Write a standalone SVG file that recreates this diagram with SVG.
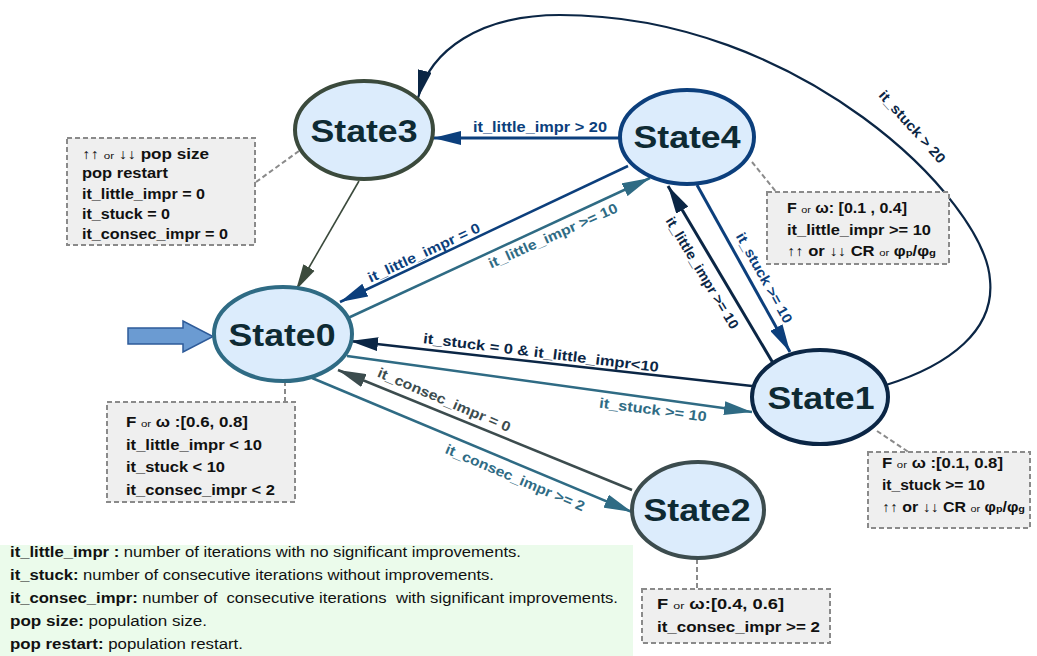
<svg xmlns="http://www.w3.org/2000/svg" width="1037" height="656" viewBox="0 0 1037 656">
<style>
.st{font:bold 31px "Liberation Sans",Arial,sans-serif;fill:#0e2a33;text-anchor:middle}
.lb{font:bold 14px "Liberation Sans",Arial,sans-serif;text-anchor:middle}
.nt{font:bold 14px "Liberation Sans",Arial,sans-serif;fill:#111}
.sm{font-size:9.5px;font-weight:normal}
.sub{font-size:9.5px}
.lg{font:14px "Liberation Sans",Arial,sans-serif;fill:#111}
.b{font-weight:bold}
.note{fill:#efefef;stroke:#8a8a8a;stroke-width:2;stroke-dasharray:5,3}
.lead{fill:none;stroke:#8a8a8a;stroke-width:2;stroke-dasharray:5,3}
.node{fill:#dcecfc;stroke-width:4}
.e{fill:none}
</style>
<defs>
<marker id="mBlue" viewBox="0 0 28 14" refX="28" refY="7" markerWidth="28" markerHeight="14" markerUnits="userSpaceOnUse" orient="auto"><path d="M0,0 L28,7 L0,14 z" fill="#0c3f7c"/></marker>
<marker id="mTeal" viewBox="0 0 28 14" refX="28" refY="7" markerWidth="28" markerHeight="14" markerUnits="userSpaceOnUse" orient="auto"><path d="M0,0 L28,7 L0,14 z" fill="#2f6b84"/></marker>
<marker id="mDark" viewBox="0 0 28 14" refX="28" refY="7" markerWidth="28" markerHeight="14" markerUnits="userSpaceOnUse" orient="auto"><path d="M0,0 L28,7 L0,14 z" fill="#0b2645"/></marker>
<marker id="mOlive" viewBox="0 0 28 14" refX="28" refY="7" markerWidth="26" markerHeight="14" markerUnits="userSpaceOnUse" orient="auto"><path d="M0,0 L28,7 L0,14 z" fill="#3b4a3c"/></marker>
<marker id="mGray" viewBox="0 0 28 14" refX="28" refY="7" markerWidth="28" markerHeight="14" markerUnits="userSpaceOnUse" orient="auto"><path d="M0,0 L28,7 L0,14 z" fill="#3c4c4e"/></marker>
</defs>
<rect width="1037" height="656" fill="#ffffff"/>

<g id="legend">
<rect x="0" y="545" width="633" height="111" fill="#ebfbeb"/>
<text class="lg" x="10" y="557" textLength="511" lengthAdjust="spacingAndGlyphs"><tspan class="b">it_little_impr : </tspan>number of iterations with no significant improvements.</text>
<text class="lg" x="10" y="580" textLength="484" lengthAdjust="spacingAndGlyphs"><tspan class="b">it_stuck: </tspan>number of consecutive iterations without improvements.</text>
<text class="lg" x="10" y="603" textLength="608" lengthAdjust="spacingAndGlyphs" xml:space="preserve"><tspan class="b">it_consec_impr: </tspan>number of  consecutive iterations  with significant improvements.</text>
<text class="lg" x="10" y="626" textLength="197" lengthAdjust="spacingAndGlyphs"><tspan class="b">pop size: </tspan>population size.</text>
<text class="lg" x="10" y="649" textLength="233" lengthAdjust="spacingAndGlyphs"><tspan class="b">pop restart: </tspan>population restart.</text>
</g>

<g id="connectors">
<path class="lead" d="M256,182 L299,151"/>
<path class="lead" d="M752,162 L777,193"/>
<path class="lead" d="M285,402 L285,382"/>
<path class="lead" d="M877,431 L910,453"/>
<path class="lead" d="M697,559 L697,589"/>

<path class="e" d="M620,138 L433,138" stroke="#0c3f7c" stroke-width="3" marker-end="url(#mBlue)"/>
<text class="lb" x="540" y="132" fill="#0c3f7c" textLength="134" lengthAdjust="spacingAndGlyphs">it_little_impr &gt; 20</text>

<path class="e" d="M359,181 L296,290" stroke="#3b4a3c" stroke-width="1.6" marker-end="url(#mOlive)"/>

<path class="e" d="M628,166 L340,302" stroke="#0c3f7c" stroke-width="2.5" marker-end="url(#mBlue)"/>
<text class="lb" fill="#0c3f7c" transform="translate(424,253) rotate(-25)" y="4.5" textLength="122" lengthAdjust="spacingAndGlyphs">it_little_impr = 0</text>

<path class="e" d="M348,318 L650,178" stroke="#2f6b84" stroke-width="2.5" marker-end="url(#mTeal)"/>
<text class="lb" fill="#2f6b84" transform="translate(553,236) rotate(-24)" y="4.5" textLength="140" lengthAdjust="spacingAndGlyphs">it_little_impr &gt;= 10</text>

<path class="e" d="M697,185 L790,352" stroke="#0c3f7c" stroke-width="3" marker-end="url(#mBlue)"/>
<text class="lb" fill="#0c3f7c" transform="translate(764,278) rotate(61)" y="4.5" textLength="101" lengthAdjust="spacingAndGlyphs">it_stuck &gt;= 10</text>

<path class="e" d="M773,363 L668,186" stroke="#0b2645" stroke-width="3" marker-end="url(#mDark)"/>
<text class="lb" fill="#0b2645" transform="translate(702,273) rotate(59)" y="4.5" textLength="128" lengthAdjust="spacingAndGlyphs">it_little_impr &gt;= 10</text>

<path class="e" d="M752,386 L350,341" stroke="#0b2645" stroke-width="2.5" marker-end="url(#mDark)"/>
<text class="lb" fill="#0b2645" transform="translate(541,353) rotate(7)" y="4.5" textLength="237" lengthAdjust="spacingAndGlyphs">it_stuck = 0 &amp; it_little_impr&lt;10</text>

<path class="e" d="M347,356 L752,412" stroke="#2f6b84" stroke-width="2.5" marker-end="url(#mTeal)"/>
<text class="lb" fill="#2f6b84" transform="translate(653,410) rotate(7.5)" y="4.5" textLength="108" lengthAdjust="spacingAndGlyphs">it_stuck &gt;= 10</text>

<path class="e" d="M632,490 L338,370" stroke="#3c4c4e" stroke-width="2.5" marker-end="url(#mGray)"/>
<text class="lb" fill="#3c4c4e" transform="translate(444,400) rotate(23)" y="4.5" textLength="143" lengthAdjust="spacingAndGlyphs">it_consec_impr = 0</text>

<path class="e" d="M312,378 L632,512" stroke="#2f6b84" stroke-width="2.5" marker-end="url(#mTeal)"/>
<text class="lb" fill="#2f6b84" transform="translate(515,478) rotate(23)" y="4.5" textLength="150" lengthAdjust="spacingAndGlyphs">it_consec_impr &gt;= 2</text>

<path class="e" d="M886,385 C950,365 995,330 990,280 C985,200 800,15 560,15 C480,15 430,50 418,98" stroke="#0b2645" stroke-width="2.2" marker-end="url(#mDark)"/>
<text class="lb" fill="#0b2645" transform="translate(912,127) rotate(48)" y="4.5" textLength="92" lengthAdjust="spacingAndGlyphs">it_stuck &gt; 20</text>
</g>

<g id="start">
<path d="M128,328 L183,328 L183,321 L213,336.5 L183,352 L183,344 L128,344 Z" fill="#6b9bd2" stroke="#2e5b99" stroke-width="1.5"/>
</g>

<g id="State3">
<ellipse class="node" cx="364" cy="130" rx="69" ry="49" stroke="#3b4a3c"/>
<text class="st" x="364" y="142" textLength="107" lengthAdjust="spacingAndGlyphs">State3</text>
</g>
<g id="State4">
<ellipse class="node" cx="687" cy="137" rx="67" ry="47" stroke="#0c3f7c"/>
<text class="st" x="687" y="148" textLength="107" lengthAdjust="spacingAndGlyphs">State4</text>
</g>
<g id="State0">
<ellipse class="node" cx="283" cy="334" rx="69" ry="47" stroke="#2f6b84"/>
<text class="st" x="282" y="346" textLength="107" lengthAdjust="spacingAndGlyphs">State0</text>
</g>
<g id="State1">
<ellipse class="node" cx="820" cy="397" rx="68" ry="47" stroke="#0b2645"/>
<text class="st" x="821" y="409" textLength="107" lengthAdjust="spacingAndGlyphs">State1</text>
</g>
<g id="State2">
<ellipse class="node" cx="698" cy="510" rx="66" ry="48" stroke="#3c4c4e"/>
<text class="st" x="697" y="521" textLength="107" lengthAdjust="spacingAndGlyphs">State2</text>
</g>

<g id="note-State3">
<rect class="note" x="67" y="138" width="188" height="107"/>
<text class="nt" x="82" y="159" textLength="127" lengthAdjust="spacingAndGlyphs">↑↑ <tspan class="sm">or</tspan> ↓↓ pop size</text>
<text class="nt" x="82" y="178" textLength="86" lengthAdjust="spacingAndGlyphs">pop restart</text>
<text class="nt" x="82" y="199" textLength="123" lengthAdjust="spacingAndGlyphs">it_little_impr = 0</text>
<text class="nt" x="82" y="219" textLength="88" lengthAdjust="spacingAndGlyphs">it_stuck = 0</text>
<text class="nt" x="82" y="239" textLength="146" lengthAdjust="spacingAndGlyphs">it_consec_impr = 0</text>
</g>
<g id="note-State4">
<rect class="note" x="767" y="192" width="182" height="72"/>
<text class="nt" x="787" y="213" textLength="120" lengthAdjust="spacingAndGlyphs">F <tspan class="sm">or</tspan> ω: [0.1 , 0.4]</text>
<text class="nt" x="787" y="235" textLength="144" lengthAdjust="spacingAndGlyphs">it_little_impr &gt;= 10</text>
<text class="nt" x="787" y="256" textLength="149" lengthAdjust="spacingAndGlyphs">↑↑ or ↓↓ CR <tspan class="sm">or</tspan> φ<tspan class="sub">p</tspan>/φ<tspan class="sub">g</tspan></text>
</g>
<g id="note-State0">
<rect class="note" x="107" y="402" width="188" height="100"/>
<text class="nt" x="126" y="427" textLength="122" lengthAdjust="spacingAndGlyphs">F <tspan class="sm">or</tspan> ω :[0.6, 0.8]</text>
<text class="nt" x="126" y="450" textLength="136" lengthAdjust="spacingAndGlyphs">it_little_impr &lt; 10</text>
<text class="nt" x="126" y="472" textLength="99" lengthAdjust="spacingAndGlyphs">it_stuck &lt; 10</text>
<text class="nt" x="126" y="495" textLength="149" lengthAdjust="spacingAndGlyphs">it_consec_impr &lt; 2</text>
</g>
<g id="note-State1">
<rect class="note" x="868" y="452" width="162" height="76"/>
<text class="nt" x="882" y="468" textLength="121" lengthAdjust="spacingAndGlyphs">F <tspan class="sm">or</tspan> ω :[0.1, 0.8]</text>
<text class="nt" x="882" y="490" textLength="103" lengthAdjust="spacingAndGlyphs">it_stuck &gt;= 10</text>
<text class="nt" x="882" y="512" textLength="143" lengthAdjust="spacingAndGlyphs">↑↑ or ↓↓ CR <tspan class="sm">or</tspan> φ<tspan class="sub">p</tspan>/φ<tspan class="sub">g</tspan></text>
</g>
<g id="note-State2">
<rect class="note" x="642" y="589" width="188" height="54"/>
<text class="nt" x="657" y="609" textLength="127" lengthAdjust="spacingAndGlyphs">F <tspan class="sm">or</tspan> ω:[0.4, 0.6]</text>
<text class="nt" x="657" y="632" textLength="163" lengthAdjust="spacingAndGlyphs">it_consec_impr &gt;= 2</text>
</g>
</svg>
